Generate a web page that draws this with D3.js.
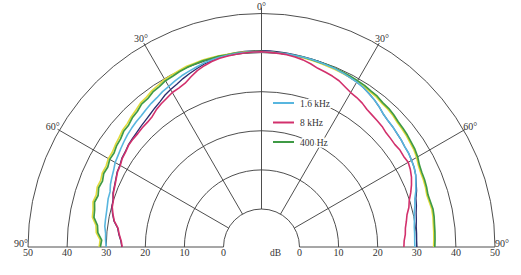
<!DOCTYPE html>
<html><head><meta charset="utf-8">
<script src="https://cdn.jsdelivr.net/npm/d3@7"></script>
<style>body{margin:0;background:#fff} text{font-family:"Liberation Serif","DejaVu Serif",serif;fill:#333}</style>
</head><body><svg id="c" width="521" height="275"></svg>
<script>
// angle from vertical (degrees), negative = left
const angles = [-90,-87.5,-85,-82.5,-80,-77.5,-75,-72.5,-70,-67.5,-65,-62.5,-60,-57.5,-55,-52.5,-50,-47.5,-45,-42.5,-40,-37.5,-35,-32.5,-30,-27.5,-25,-22.5,-20,-17.5,-15,-12.5,-10,-7.5,-5,-2.5,0,2.5,5,7.5,10,12.5,15,17.5,20,22.5,25,27.5,30,32.5,35,37.5,40,42.5,45,47.5,50,52.5,55,57.5,60,62.5,65,67.5,70,72.5,75,77.5,80,82.5,85,87.5,90];

// level in dB for each series
const yellowSeries = [31.8,31.6,32.7,33.0,34.2,34.4,34.9,34.6,35.0,34.8,35.2,35.1,35.5,35.5,35.9,36.2,36.7,36.9,37.4,37.8,38.4,38.6,39.1,39.4,39.8,39.9,40.1,40.3,40.3,40.4,40.4,40.4,40.3,40.4,40.3,40.3,40.3,40.2,40.1,40.0,39.9,39.8,39.7,39.6,39.5,39.4,39.3,39.2,39.1,39.0,38.7,38.6,38.2,38.1,37.8,37.4,37.2,37.0,36.7,36.5,36.1,35.5,35.2,35.1,34.9,34.6,34.7,34.9,34.8,34.6,34.5,34.4,34.3];
const hz400 = [31.5,31.2,32.3,32.6,33.8,34.0,34.5,34.1,34.6,34.3,34.8,34.6,35.1,35.0,35.5,35.7,36.3,36.4,37.0,37.3,38.0,38.1,38.7,38.9,39.4,39.5,39.8,40.0,40.1,40.2,40.2,40.3,40.2,40.3,40.2,40.3,40.2,40.2,40.1,40.1,40.0,40.0,39.9,39.8,39.8,39.7,39.6,39.5,39.4,39.3,39.0,38.9,38.5,38.4,38.1,37.7,37.5,37.3,37.0,36.8,36.4,35.8,35.5,35.4,35.2,34.9,35.0,35.2,35.1,34.9,34.8,34.7,34.6];
const khz16 = [30.0,30.2,30.3,30.7,30.8,30.9,31.1,31.4,31.5,32.1,32.5,32.9,33.5,33.8,34.2,34.6,35.0,35.3,35.6,35.8,36.2,36.6,36.9,37.4,37.7,38.2,38.6,38.9,39.2,39.6,39.8,40.0,40.1,40.2,40.2,40.2,40.2,40.2,40.1,40.1,40.0,40.0,39.9,39.8,39.7,39.6,39.4,39.2,39.0,38.7,38.2,37.7,37.1,36.4,36.0,35.8,35.5,35.3,35.0,34.9,34.6,34.3,33.8,33.0,32.3,31.4,30.9,30.3,30.0,29.7,29.6,29.5,29.5];
const khz8 = [25.9,26.2,26.8,27.3,28.5,29.2,29.8,30.0,30.6,30.9,31.3,31.8,32.0,32.5,32.7,33.1,33.2,33.2,33.4,33.5,33.8,34.5,35.0,35.4,35.9,36.1,36.5,37.4,38.3,38.9,39.4,39.7,39.9,40.0,40.1,40.2,40.2,40.1,40.0,39.9,39.6,39.3,38.8,38.2,37.9,37.6,37.2,36.5,35.9,35.6,35.2,34.6,34.3,34.1,33.9,33.5,33.4,33.3,33.5,33.4,33.6,33.2,32.6,31.8,30.9,29.9,29.3,28.4,27.9,27.4,27.2,26.8,26.7];
const navySeries = [26.0,26.3,26.9,27.4,28.6,29.3,29.9,30.1,30.7,31.0,31.4,31.9,32.1,32.6,32.8,33.2,33.4,33.6,33.9,34.2,34.6,35.1,35.6,36.3,36.8,37.2,37.8,38.3,38.8,39.3,39.6,40.1,40.3,40.4,40.5,40.5,40.5,40.5,40.4,40.3,40.2,40.1,40.0,39.9,39.8,39.6,39.4,39.2,39.0,38.7,38.2,37.7,37.1,36.4,36.0,35.8,35.5,35.3,35.0,34.9,34.6,34.3,33.8,33.1,32.5,31.7,31.3,30.8,30.5,30.2,30.1,30.0,30.0];

const ringTicks = [0,10,20,30,40,50];
const spokeAngles = [-60,-30,0,30,60];
const degreeLabels = [{a:-90,t:"90°"},{a:-60,t:"60°"},{a:-30,t:"30°"},{a:0,t:"0°"},{a:30,t:"30°"},{a:60,t:"60°"},{a:90,t:"90°"}];
const legendNames = ["1.6 kHz","8 kHz","400 Hz"];

const cx = 261.5, cy = 247;
const r = d3.scaleLinear().domain([0,50]).range([38,233.5]);
const svg = d3.select("#c");
const g = svg.append("g").attr("transform",`translate(${cx},${cy})`);
const gridColor = "#3a3a3a";

// rings
ringTicks.forEach(v=>{
  const p = d3.path(); p.arc(0,0,r(v),-Math.PI,0);
  g.append("path").attr("d",p.toString()).attr("fill","none").attr("stroke",gridColor).attr("stroke-width",0.9);
});
// baseline
[-1,1].forEach(sg=>{
  g.append("line").attr("x1",sg*r(0)).attr("x2",sg*r(50)).attr("y1",0).attr("y2",0)
   .attr("stroke",gridColor).attr("stroke-width",0.9);
});
// spokes
spokeAngles.forEach(a=>{
  const t = a*Math.PI/180, r2 = r(50)+(a===0?6:2);
  g.append("line").attr("x1",r(0)*Math.sin(t)).attr("y1",-r(0)*Math.cos(t))
   .attr("x2",r2*Math.sin(t)).attr("y2",-r2*Math.cos(t))
   .attr("stroke",gridColor).attr("stroke-width",0.9);
});

// curves
const line = d3.lineRadial().angle((d,i)=>angles[i]*Math.PI/180).radius(d=>r(d));
const series = [
  {v:yellowSeries, c:"#e2dc3c", w:1.6},
  {v:hz400, c:"#3f9a45", w:1.7},
  {v:khz16, c:"#58b6df", w:1.6},
  {v:khz8, c:"#d2306c", w:1.6},
];
// navy drawn under the others except where it separates
g.append("path").attr("d",line(navySeries)).attr("fill","none").attr("stroke","#2a2d6e").attr("stroke-width",1.3);
series.forEach(s=>{
  g.append("path").attr("d",line(s.v)).attr("fill","none").attr("stroke",s.c).attr("stroke-width",s.w).attr("stroke-linejoin","round");
});
// navy re-drawn on top only near the peak region? keep simple: thin overlay
g.append("path").attr("d",line(navySeries.map((v,i)=>v))).attr("fill","none").attr("stroke","#2a2d6e").attr("stroke-width",0.0);

// tick labels
ringTicks.forEach(v=>{
  [-1,1].forEach(sg=>{
    g.append("text").attr("x",sg*r(v)).attr("y",9).attr("text-anchor","middle")
     .attr("font-size",10).text(v);
  });
});
g.append("text").attr("x",14).attr("y",9).attr("text-anchor","middle").attr("font-size",9.5).text("dB");

// degree labels
degreeLabels.forEach(d=>{
  const t = d.a*Math.PI/180, rr = 241;
  let x = rr*Math.sin(t), y = -rr*Math.cos(t);
  if (Math.abs(d.a)===90) { y = -4; x = Math.sign(d.a)*(r(50)+7); }
  g.append("text").attr("x",x).attr("y",y+3.5).attr("text-anchor","middle").attr("font-size",10).text(d.t);
});

// legend
const legendColors = ["#58b6df","#d2306c","#3f9a45"];
const legendY = [103,122.5,142];
legendNames.forEach((n,i)=>{
  svg.append("line").attr("x1",273).attr("x2",294).attr("y1",legendY[i]).attr("y2",legendY[i])
    .attr("stroke",legendColors[i]).attr("stroke-width",2);
  svg.append("text").attr("x",300).attr("y",legendY[i]+3.5).attr("font-size",9.5)
    .attr("stroke","#fff").attr("stroke-width",3).attr("paint-order","stroke").text(n);
});
</script></body></html>
